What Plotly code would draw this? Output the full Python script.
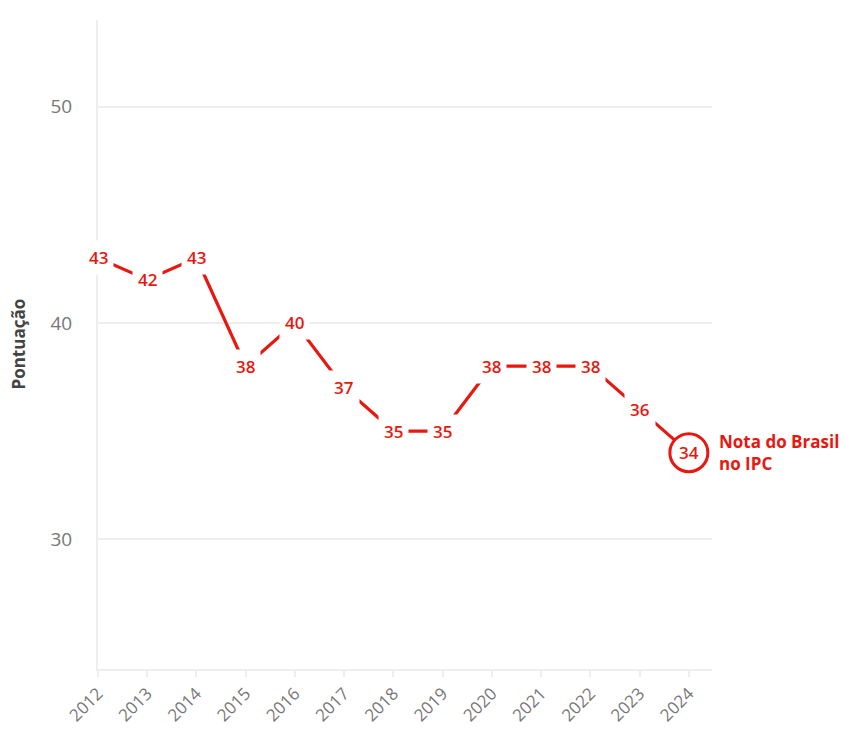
import plotly.graph_objects as go

years = [2012, 2013, 2014, 2015, 2016, 2017, 2018, 2019, 2020, 2021, 2022, 2023, 2024]
scores = [43, 42, 43, 38, 40, 37, 35, 35, 38, 38, 38, 36, 34]
y_ticks = [30, 40, 50]
y_title = "Pontuação"
end_label = "Nota do Brasil<br>no IPC"

RED = "#e8170f"
FONT = "Open Sans"

fig = go.Figure()
fig.add_trace(go.Scatter(
    x=years, y=scores, mode="lines",
    line=dict(color=RED, width=3.2),
    hoverinfo="skip", showlegend=False,
))
fig.add_trace(go.Scatter(
    x=[years[-1]], y=[scores[-1]], mode="markers",
    marker=dict(symbol="circle", size=38, color="white", line=dict(color=RED, width=3)),
    hoverinfo="skip", showlegend=False, cliponaxis=False,
))

for i, (x, y) in enumerate(zip(years, scores)):
    fig.add_annotation(
        x=x, y=y, text=str(y), showarrow=False,
        font=dict(family=FONT, size=17, color=RED, weight=600),
        bgcolor="white" if i < len(years) - 1 else "rgba(0,0,0,0)",
        borderpad=5,
    )

fig.add_annotation(
    x=years[-1], y=scores[-1], text=end_label, showarrow=False,
    xanchor="left", xshift=28, align="left",
    font=dict(family=FONT, size=17, color=RED, weight=700),
)

fig.add_annotation(
    xref="paper", yref="paper", x=0, y=0.5, xshift=-80,
    xanchor="center", yanchor="middle",
    text=y_title, textangle=-90, showarrow=False,
    font=dict(family=FONT, size=17, color="#444", weight=700),
)

fig.update_layout(
    width=865, height=738,
    margin=dict(l=98, r=153, t=20, b=66),
    paper_bgcolor="white", plot_bgcolor="white",
    font=dict(family=FONT),
)
fig.update_xaxes(
    range=[2012, 2024.47], tickvals=years, ticktext=[str(y) for y in years],
    tickangle=-45, tickfont=dict(size=17, color="#777"),
    showgrid=False, zeroline=False,
    showline=True, linecolor="#eeeeee", linewidth=2,
    ticks="outside", ticklen=6, tickcolor="#eeeeee", tickwidth=2,
)
fig.update_yaxes(
    range=[24, 54], tickvals=y_ticks,
    tickfont=dict(size=19, color="#777"),
    showgrid=True, gridcolor="#eeeeee", gridwidth=2,
    zeroline=False, showline=True, linecolor="#eeeeee", linewidth=2,
    ticklabelstandoff=20,
)

fig.write_html("out.html")
